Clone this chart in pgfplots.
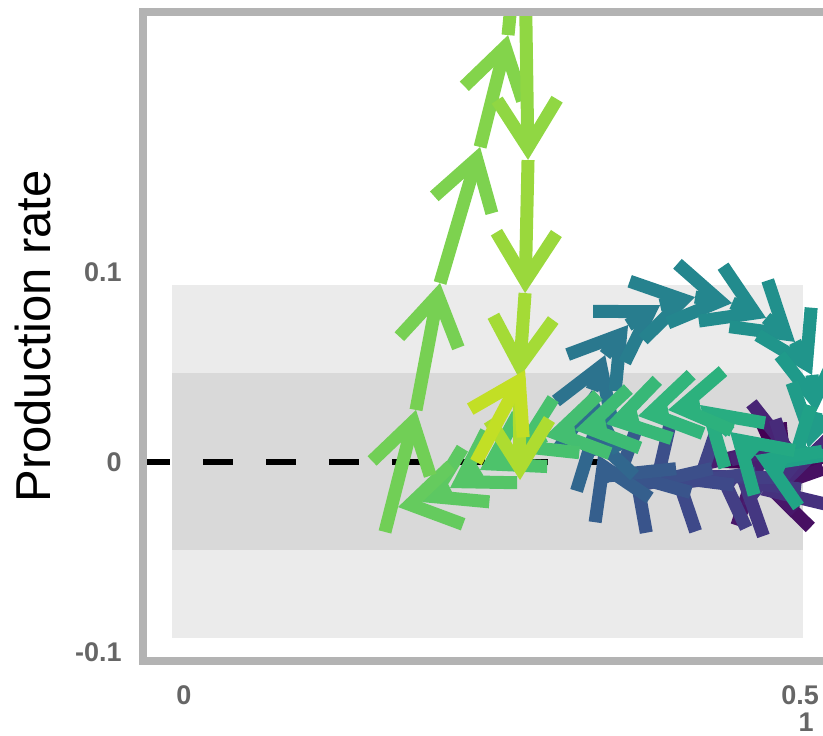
\documentclass[border=0pt]{standalone}
\usepackage{fontspec}
\setmainfont{Liberation Sans}
\usepackage{pgfplots}
\usepackage{pgfplotstable}
\pgfplotsset{compat=1.18}
\usetikzlibrary{arrows.meta}

\definecolor{bandlight}{HTML}{EBEBEB}
\definecolor{banddark}{HTML}{D9D9D9}
\definecolor{framegray}{HTML}{B3B3B3}
\definecolor{ticktext}{HTML}{666666}

% trajectory samples: position (x,y), velocity arrow (u,v), time t
\pgfplotstableread{
x       y        u        v        t
0.4773   0.0021  0.0146  -0.0063  0.00
0.4919  -0.0042 -0.0081  -0.0105  0.02
0.4838  -0.0147 -0.0179   0.0026  0.04
0.4659  -0.0121 -0.0049   0.0132  0.06
0.4610   0.0011  0.0146   0.0095  0.08
0.4756   0.0106  0.0227  -0.0053  0.10
0.4984   0.0053 -0.0065  -0.0174  0.12
0.4919  -0.0121 -0.0244  -0.0053  0.14
0.4675  -0.0173 -0.0203   0.0105  0.16
0.4472  -0.0121 -0.0187   0.0079  0.18
0.4286  -0.0042 -0.0179  -0.0095  0.20
0.4107  -0.0137 -0.0179   0.0095  0.22
0.3929  -0.0042 -0.0162  -0.0105  0.24
0.3766  -0.0147 -0.0162   0.0116  0.26
0.3604  -0.0032 -0.0146  -0.0074  0.28
0.3458  -0.0105 -0.0097   0.0142  0.30
0.3360   0.0037 -0.0065   0.0158  0.33
0.3295   0.0195  0.0016   0.0184  0.36
0.3312   0.0379  0.0106   0.0184  0.38
0.3417   0.0563  0.0187   0.0158  0.40
0.3604   0.0721  0.0260   0.0105  0.42
0.3864   0.0826  0.0284   0.0042  0.44
0.4148   0.0868  0.0300  -0.0032  0.46
0.4448   0.0837  0.0276  -0.0079  0.48
0.4724   0.0758  0.0235  -0.0126  0.50
0.4959   0.0632  0.0138  -0.0174  0.52
0.5097   0.0458  0.0032  -0.0195  0.54
0.5130   0.0263 -0.0065  -0.0189  0.55
0.5065   0.0074 -0.0187  -0.0105  0.57
0.4878  -0.0032 -0.0244   0.0068  0.59
0.4635   0.0037 -0.0203   0.0121  0.605
0.4432   0.0158 -0.0244   0.0142  0.62
0.4188   0.0300 -0.0260  -0.0026  0.64
0.3929   0.0274 -0.0244  -0.0032  0.655
0.3685   0.0242 -0.0260  -0.0042  0.67
0.3425   0.0200 -0.0252  -0.0032  0.685
0.3174   0.0168 -0.0244  -0.0032  0.70
0.2930   0.0137 -0.0268  -0.0084  0.71
0.2662   0.0053 -0.0260  -0.0095  0.72
0.2403  -0.0042 -0.0244  -0.0095  0.735
0.2159  -0.0137 -0.0227  -0.0074  0.75
0.1932  -0.0211 -0.0195  -0.0026  0.765
0.1631  -0.0368  0.0252   0.0642  0.785
0.1883   0.0274  0.0195   0.0668  0.795
0.2078   0.0942  0.0325   0.0716  0.805
0.2403   0.1658  0.0227   0.0589  0.815
0.2630   0.2247  0.0097   0.0658  0.825
0.2760   0.2958  0.0032  -0.1368  0.835
0.2792   0.1589 -0.0024  -0.0700  0.85
0.2768   0.0889 -0.0049  -0.0447  0.865
0.2719   0.0442  0.0008  -0.0537  0.88
0.2370   0.0000  0.0398   0.0484  0.91
}\traj

\begin{document}
\begin{tikzpicture}
\begin{axis}[
  at={(-20.5pt,-99.5pt)}, anchor=south west,
  scale only axis, width=365.5pt, height=324.5pt,
  xmin=-0.03328, xmax=0.56, ymin=-0.104737, ymax=0.236842,
  axis on top,
  axis line style={draw=framegray, line width=4pt},
  major tick length=0pt,
  xtick={0,0.5}, xticklabels={0,0.5},
  ytick={-0.1,0,0.1}, yticklabels={-0.1,0,0.1},
  tick label style={font=\fontsize{13.5}{16}\selectfont\bfseries, text=ticktext},
  xticklabel style={anchor=north, inner sep=0pt, yshift=-12pt},
  yticklabel style={anchor=east, inner sep=0pt, xshift=-10.5pt},
  ylabel={Production rate},
  ylabel style={font=\fontsize{24.5}{29}\selectfont, at={(rel axis cs:-0.12722,0.5)}, anchor=base, inner sep=0pt},
  colormap/viridis, point meta min=0, point meta max=1,
]
% tolerance bands
\addplot[draw=none, fill=bandlight] coordinates {(-0.0097,-0.0926) (0.502,-0.0926) (0.502,0.0932) (-0.0097,0.0932)} -- cycle;
\addplot[draw=none, fill=banddark] coordinates {(-0.0097,-0.0463) (0.502,-0.0463) (0.502,0.0468) (-0.0097,0.0468)} -- cycle;
% zero reference
\addplot[black, line width=2.7pt, dash pattern=on 15pt off 16.5pt] coordinates {(-0.0357,0) (0.34,0)};
% trajectory arrows coloured by time
\addplot[
  point meta=\thisrow{t},
  quiver={u=\thisrow{u}, v=\thisrow{v}, colored,
    every arrow/.append style={line width=6.5pt, -{Straight Barb[length=24pt,width=30pt]}}},
] table[x=x, y=y] {\traj};
\end{axis}
\node[anchor=north, inner sep=0pt, font=\fontsize{13.5}{16}\selectfont\bfseries, text=ticktext] at (311pt,-125.5pt) {1};
\pgfresetboundingbox
\useasboundingbox (-92pt,-136.5pt) rectangle (319.5pt,231pt);
\end{tikzpicture}
\end{document}
